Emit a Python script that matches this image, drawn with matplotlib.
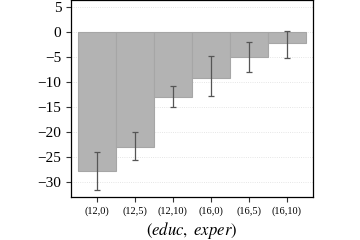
import matplotlib
matplotlib.use("Agg")
import matplotlib.pyplot as plt
import numpy as np

plt.rcParams['font.family'] = ['Liberation Serif', 'DejaVu Serif']
plt.rcParams['mathtext.fontset'] = 'stix'

labels = ['(12,0)', '(12,5)', '(12,10)', '(16,0)', '(16,5)', '(16,10)']
values = [-27.8, -23.1, -13.0, -9.3, -5.0, -2.3]
err_low = [-31.7, -25.7, -15.1, -12.9, -8.0, -5.3]
err_high = [-24.1, -20.1, -10.8, -4.9, -2.1, 0.2]
yticks = [5, 0, -5, -10, -15, -20, -25, -30]

fig = plt.figure(figsize=(3.6, 2.4), dpi=100)
ax = fig.add_axes([0.197, 0.18, 0.672, 0.818])

x = np.arange(len(labels))
mid = (np.array(err_low) + np.array(err_high)) / 2
half = (np.array(err_high) - np.array(err_low)) / 2

ax.bar(x, values, width=1.0, color='#b3b3b3', edgecolor='#a6a6a6', linewidth=0.8, zorder=2)
ax.errorbar(x, mid, yerr=half, fmt='none', ecolor='#555555', elinewidth=0.9,
            capsize=2.5, capthick=0.9, zorder=3)

ax.set_xlim(-0.68, 5.68)
ax.set_ylim(-33, 6.3)
ax.set_yticks(yticks)
ax.set_yticklabels([str(t).replace('-', '\u2212') for t in yticks], fontsize=11)
ax.set_xticks(x)
ax.set_xticklabels(labels, fontsize=7.5)
ax.yaxis.grid(True, linestyle=':', color='#dddddd', linewidth=0.6, zorder=0)
ax.set_axisbelow(True)
ax.tick_params(axis='both', direction='out', length=3.5, color='#333333')
for s in ax.spines.values():
    s.set_color('black')
    s.set_linewidth(0.9)
ax.set_xlabel(r'$(educ,\ exper)$', fontsize=12, labelpad=3)

fig.savefig('out.png', dpi=100)
